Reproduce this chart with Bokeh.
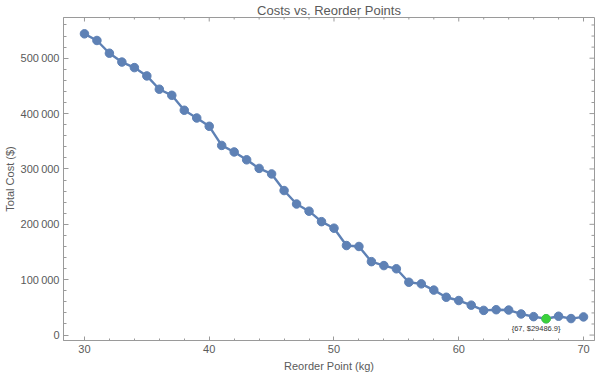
import math
from bokeh.plotting import figure
from bokeh.models import Range1d, CustomJSTickFormatter, SingleIntervalTicker, ColumnDataSource
from bokeh.core.properties import value
from bokeh.embed import file_html
from bokeh.resources import INLINE

reorder_points = list(range(30, 71))
total_costs = [544000, 532000, 509000, 493000, 483000, 468000, 444000, 433000, 406000, 392000,
               377000, 342500, 330700, 316500, 301000, 291000, 261000, 236700, 223700, 204800,
               193000, 161700, 160000, 132600, 125500, 119700, 95400, 92500, 81200, 68300,
               62400, 54000, 44600, 45800, 45200, 38100, 33300, 29486.9, 34000, 29800,
               32800]
opt_x = [67]
opt_y = [29486.9]
opt_label = ["{%d, $%.1f}" % (opt_x[0], opt_y[0])]

x_major_ticks = [30, 40, 50, 60, 70]
x_minor_ticks = [v for v in range(30, 71, 2) if v % 10 != 0]
y_major_ticks = [0, 100000, 200000, 300000, 400000, 500000]
y_minor_ticks = [v for v in range(0, 570000, 20000) if v % 100000 != 0]

X0, X1 = 28.32, 70.88
Y0, Y1 = -9800, 573500

FONT = "Liberation Sans"
AX = "#9a9a9a"
TXT = "#5a5a5a"
BLUE = "#5E81B5"

p = figure(width=600, height=374, output_backend="svg", toolbar_location=None,
           x_range=Range1d(X0, X1), y_range=Range1d(Y0, Y1),
           title="Costs vs. Reorder Points")
p.min_border_left = 0
p.min_border_right = 6
p.min_border_top = 0
p.min_border_bottom = 0
p.border_fill_color = "white"
p.outline_line_color = AX
p.outline_line_width = 1
p.grid.visible = False
p.background_fill_color = "white"

p.title.align = "center"
p.title.text_font = FONT
p.title.text_font_size = "13px"
p.title.text_font_style = "normal"
p.title.text_color = TXT
p.title.standoff = 0
p.title.offset = 0

fmt = CustomJSTickFormatter(code="""
var s = Math.round(tick).toString();
return s.replace(/\\B(?=(\\d{3})+(?!\\d))/g, "\\u2009");
""")

def style_axis(ax, tin=5, mtin=3):
    ax.axis_line_color = AX
    ax.major_tick_line_color = AX
    ax.minor_tick_line_color = AX
    ax.major_tick_in = tin
    ax.major_tick_out = 0
    ax.minor_tick_in = mtin
    ax.minor_tick_out = 0
    ax.major_label_text_font = FONT
    ax.major_label_text_color = TXT
    ax.major_label_text_font_size = "11px"
    ax.major_label_standoff = 4
    ax.axis_label_text_font = FONT
    ax.axis_label_text_font_style = "normal"
    ax.axis_label_text_font_size = "11px"
    ax.axis_label_text_color = TXT
    ax.axis_label_standoff = 4

p.xaxis.ticker = SingleIntervalTicker(interval=10, num_minor_ticks=5)
p.yaxis.ticker = SingleIntervalTicker(interval=100000, num_minor_ticks=5)
p.yaxis.formatter = fmt
p.xaxis.axis_label = "Reorder Point (kg)"
p.yaxis.axis_label = "Total Cost ($)"
style_axis(p.xaxis[0], tin=4, mtin=2)
style_axis(p.yaxis[0], tin=5, mtin=3)
p.yaxis[0].axis_label_standoff = 2
p.yaxis[0].major_label_standoff = 4

p.ray(x=x_major_ticks, y=[Y1] * len(x_major_ticks), length=4, length_units="screen",
      angle=-math.pi / 2, line_color=AX, line_width=1)
p.ray(x=x_minor_ticks, y=[Y1] * len(x_minor_ticks), length=2, length_units="screen",
      angle=-math.pi / 2, line_color=AX, line_width=1)
p.ray(x=[X1] * len(y_major_ticks), y=y_major_ticks, length=5, length_units="screen",
      angle=math.pi, line_color=AX, line_width=1)
p.ray(x=[X1] * len(y_minor_ticks), y=y_minor_ticks, length=3, length_units="screen",
      angle=math.pi, line_color=AX, line_width=1)

src = ColumnDataSource(dict(x=reorder_points, y=total_costs))
p.line("x", "y", source=src, line_color=BLUE, line_width=2.4)
p.scatter("x", "y", source=src, size=8.5, fill_color=BLUE, line_color=BLUE)

osrc = ColumnDataSource(dict(x=opt_x, y=opt_y, t=opt_label))
p.scatter("x", "y", source=osrc, size=8.5, fill_color="#3BD13B", line_color="#3BD13B")
p.text("x", "y", text="t", source=osrc, text_align="center", text_baseline="top",
       x_offset=-10, y_offset=5, text_font=value(FONT), text_font_size="7.5px",
       text_color="#333333")

open("out.html", "w").write(file_html(p, INLINE))
